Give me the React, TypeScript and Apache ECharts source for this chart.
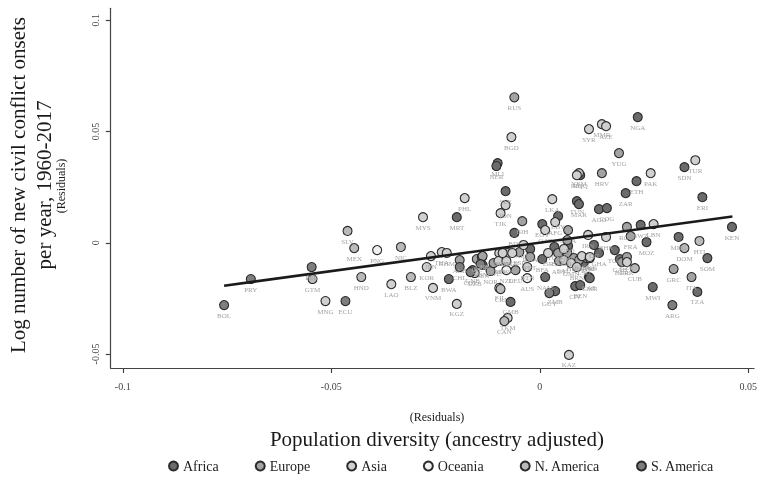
import { useEffect, useRef } from "react";
import * as echarts from "echarts";

const FONT = "'Liberation Serif', 'DejaVu Serif', serif";

const regionNames = ["Africa", "Europe", "Asia", "Oceania", "N. America", "S. America"];
const regionColors = ["#6b6b6b", "#a3a3a3", "#d0d0d0", "#f0f0f0", "#bababa", "#7e7e7e"];

// [diversity residual, conflict residual, country code]
const africaPoints: [number, number, string][] = [
  [-0.0218, -0.0163, "BWA"], [-0.0137, -0.01, "SEN"], [-0.0061, 0.0044, "BDI"],
  [-0.0023, -0.0028, "RWA"], [0.0006, -0.0073, "BFA"], [0.0013, -0.0154, "NAM"],
  [0.0037, -0.0217, "ZMB"], [0.0035, -0.0019, "TCD"], [0.0068, -0.0015, "UGA"],
  [0.0085, -0.0195, "CIV"], [0.0097, -0.019, "BEN"], [0.0106, -0.0087, "LSO"],
  [0.0118, -0.0154, "CAF"], [-0.007, -0.0266, "GMB"], [-0.0101, 0.0358, "MLI"],
  [-0.0104, 0.0345, "NER"], [-0.0082, 0.0232, "SLE"], [-0.0199, 0.0115, "MRT"],
  [0.0044, 0.012, "LBY"], [0.0006, 0.0084, "EGY"], [0.0097, 0.0304, "GNQ"],
  [0.0089, 0.0187, "TUN"], [0.0094, 0.0174, "MAR"], [0.0235, 0.0565, "NGA"],
  [0.0232, 0.0277, "ETH"], [0.0206, 0.0223, "ZAR"], [0.0347, 0.034, "SDN"],
  [0.039, 0.0205, "ERI"], [0.0142, 0.0151, "AGO"], [0.0161, 0.0156, "COG"],
  [0.0461, 0.0071, "KEN"], [0.0242, 0.008, "SWZ"], [0.0256, 0.0003, "MOZ"],
  [0.0333, 0.0026, "MDG"], [0.0402, -0.0069, "SOM"], [0.0378, -0.0221, "TZA"],
  [0.0271, -0.0199, "MWI"], [0.013, -0.001, "DJI"], [0.0142, -0.0046, "GHA"],
  [0.012, -0.0159, "CMR"], [0.018, -0.0033, "TGO"], [0.0192, -0.0073, "GAB"],
  [-0.0161, -0.0123, "GNB"],
];

const europePoints: [number, number, string][] = [
  [-0.0192, -0.0078, "ALB"], [-0.0151, -0.0073, "IRL"], [-0.0139, -0.0064, "GBR"],
  [-0.0118, -0.0127, "NOR"], [-0.0111, -0.0091, "SWE"], [-0.0058, -0.0123, "DEU"],
  [-0.0049, -0.0042, "ESP"], [-0.0023, -0.0064, "PRT"], [0.0044, -0.0046, "BEL"],
  [0.0046, -0.0082, "AUT"], [0.0066, 0.0012, "GEO"], [0.0068, 0.0057, "MDA"],
  [0.0066, -0.0046, "POL"], [0.0082, -0.0069, "HUN"], [-0.0061, 0.0654, "RUS"],
  [-0.0042, 0.0097, "BIH"], [0.019, 0.0403, "YUG"], [0.0149, 0.0313, "HRV"],
  [0.0209, 0.0071, "ROM"], [0.0218, 0.003, "FRA"], [0.0321, -0.0118, "GRC"],
  [0.0364, -0.0154, "ITA"], [0.0197, -0.0087, "BGR"], [0.0209, -0.0064, "CZE"],
  [-0.0137, -0.006, "CHE"], [0.0113, -0.0069, "SVK"], [0.0094, -0.0078, "SVN"],
];

const asiaPoints: [number, number, string][] = [
  [-0.0514, -0.0262, "MNG"], [-0.0356, -0.0186, "LAO"], [-0.028, 0.0115, "MYS"],
  [-0.0261, -0.006, "JPN"], [-0.0271, -0.0109, "KOR"], [-0.0235, -0.0042, "THA"],
  [-0.0223, -0.0046, "KHM"], [-0.0256, -0.0203, "VNM"], [-0.0199, -0.0275, "KGZ"],
  [-0.0156, -0.0136, "UZB"], [-0.0097, -0.0046, "IND"], [-0.0099, -0.0082, "CHN"],
  [-0.0077, -0.0046, "NPL"], [-0.008, -0.0082, "TWN"], [-0.0066, -0.0046, "SGP"],
  [-0.0039, -0.001, "ARM"], [-0.003, -0.0109, "BTN"], [0.002, -0.0046, "ISR"],
  [0.0058, -0.0028, "JOR"], [0.0058, -0.0078, "SAU"], [0.0075, -0.0091, "OMN"],
  [0.0101, -0.006, "KWT"], [0.012, -0.0069, "ARE"], [0.0116, 0.0035, "IRN"],
  [-0.0077, -0.0338, "TKM"], [0.007, -0.0504, "KAZ"], [-0.0068, 0.0475, "BGD"],
  [-0.018, 0.0201, "PHL"], [-0.0082, 0.0169, "IDN"], [-0.0094, 0.0133, "TJK"],
  [0.003, 0.0196, "LKA"], [0.0037, 0.0093, "AFG"], [0.0013, 0.0057, "QAT"],
  [0.0118, 0.0511, "SYR"], [0.0149, 0.0533, "MMR"], [0.0159, 0.0524, "AZE"],
  [0.0094, 0.0313, "YEM"], [0.0089, 0.0304, "IRQ"], [0.0266, 0.0313, "PAK"],
  [0.0373, 0.0371, "TUR"], [0.0273, 0.0084, "LBN"], [0.0159, 0.0026, "BHR"],
  [0.012, -0.0064, "HKG"], [0.0209, -0.0087, "PRK"], [-0.0089, -0.0046, "MDV"],
  [0.0089, -0.0109, "BRN"],
];

const oceaniaPoints: [number, number, string][] = [
  [-0.039, -0.0033, "PNG"], [-0.008, -0.0123, "NZL"], [-0.003, -0.0159, "AUS"],
  [-0.0097, -0.0203, "FJI"],
];

const nAmericaPoints: [number, number, string][] = [
  [-0.0545, -0.0163, "GTM"], [-0.0461, 0.0053, "SLV"], [-0.0445, -0.0024, "MEX"],
  [-0.0428, -0.0154, "HND"], [-0.0333, -0.0019, "NIC"], [-0.0309, -0.0154, "BLZ"],
  [-0.0094, -0.0208, "CRI"], [-0.0085, -0.0352, "CAN"], [0.0383, 0.0008, "HTI"],
  [0.0347, -0.0024, "DOM"], [0.0228, -0.0114, "CUB"],
];

const sAmericaPoints: [number, number, string][] = [
  [-0.0757, -0.028, "BOL"], [-0.0693, -0.0163, "PRY"], [-0.0547, -0.0109, "PER"],
  [-0.0466, -0.0262, "ECU"], [-0.0192, -0.0109, "CHL"], [-0.0166, -0.0132, "COL"],
  [-0.0142, -0.0096, "VEN"], [0.0023, -0.0226, "GUY"], [0.0318, -0.028, "ARG"],
];

const regionPoints = [africaPoints, europePoints, asiaPoints, oceaniaPoints, nAmericaPoints, sAmericaPoints];

// fitted regression line endpoints
const fitX = [-0.0757, 0.0462];
const fitY = [-0.0193, 0.0118];

const xTicks = [-0.1, -0.05, 0, 0.05];
const yTicks = [-0.05, 0, 0.05, 0.1];
const xRange = [-0.1029, 0.0514];
const yRange = [-0.0563, 0.1054];

export default function App() {
  const ref = useRef<HTMLDivElement>(null);
  useEffect(() => {
    if (!ref.current) return;
    const chart = echarts.init(ref.current, undefined, { renderer: "svg" });
    const scatterSeries = regionNames.map((name, i) => ({
      type: "scatter",
      name,
      z: 2,
      data: regionPoints[i].map((p) => ({ value: [p[0], p[1]], name: p[2] })),
      symbol: "circle",
      symbolSize: 9,
      itemStyle: { color: regionColors[i], borderColor: "#2b2b2b", borderWidth: 1.1, opacity: 1 },
      label: {
        show: true,
        position: "bottom",
        distance: 2,
        formatter: "{b}",
        fontSize: 7,
        color: "#a3a3a3",
        fontFamily: FONT,
      },
      emphasis: { disabled: true },
    }));
    const titleStyle = (text: string, size: number) => ({
      text,
      font: `${size}px ${FONT}`,
      fill: "#1a1a1a",
      textAlign: "center",
      textVerticalAlign: "middle",
      align: "center",
      verticalAlign: "middle",
    });
    chart.setOption({
      animation: false,
      grid: { left: 110.7, right: 2, top: 8.3, bottom: 114, containLabel: false },
      legend: {
        data: regionNames,
        icon: "circle",
        itemWidth: 9,
        itemHeight: 9,
        itemGap: 36,
        left: 163,
        top: 454,
        textStyle: { fontSize: 14, color: "#222", fontFamily: FONT },
        selectedMode: false,
      },
      xAxis: {
        type: "value",
        min: xRange[0],
        max: xRange[1],
        axisLine: { show: true, onZero: false, lineStyle: { color: "#444", width: 1.2 } },
        axisTick: { show: true, length: 5, customValues: xTicks, lineStyle: { color: "#444", width: 1.2 } },
        axisLabel: { customValues: xTicks, fontSize: 10, color: "#444", margin: 13, fontFamily: FONT },
        splitLine: { show: false },
      },
      yAxis: {
        type: "value",
        min: yRange[0],
        max: yRange[1],
        axisLine: { show: true, onZero: false, lineStyle: { color: "#444", width: 1.2 } },
        axisTick: { show: true, length: 5, customValues: yTicks, lineStyle: { color: "#444", width: 1.2 } },
        axisLabel: { customValues: yTicks, fontSize: 10, color: "#444", margin: 10, rotate: 90, fontFamily: FONT },
        splitLine: { show: false },
      },
      graphic: [
        { type: "text", x: 18, y: 185, rotation: Math.PI / 2, style: titleStyle("Log number of new civil conflict onsets", 21) },
        { type: "text", x: 44, y: 185, rotation: Math.PI / 2, style: titleStyle("per year, 1960-2017", 21) },
        { type: "text", x: 61, y: 186, rotation: Math.PI / 2, style: titleStyle("(Residuals)", 12) },
        { type: "text", x: 437, y: 417, style: titleStyle("(Residuals)", 12) },
        { type: "text", x: 437, y: 439, style: titleStyle("Population diversity (ancestry adjusted)", 21) },
      ],
      series: [
        ...scatterSeries,
        {
          type: "line",
          name: "fit",
          z: 5,
          data: fitX.map((x, i) => [x, fitY[i]]),
          symbol: "none",
          silent: true,
          lineStyle: { color: "#1a1a1a", width: 2.6 },
          label: { show: false },
        },
      ],
    });
    return () => chart.dispose();
  }, []);
  return <div ref={ref} style={{ position: "fixed", left: 0, top: 0, width: 760, height: 482 }} />;
}
